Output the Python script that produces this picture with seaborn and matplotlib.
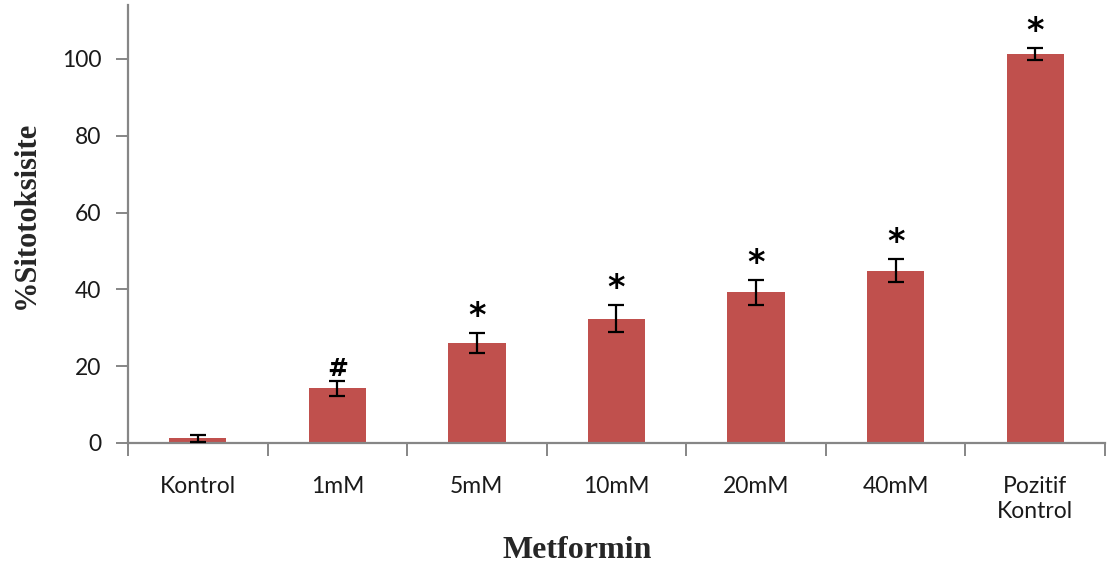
import numpy as np
import pandas as pd
import matplotlib
matplotlib.use("Agg")
import matplotlib.pyplot as plt
import seaborn as sns
from matplotlib.ticker import FixedLocator, NullFormatter

# Metformin cytotoxicity: mean % with error, and significance marks
categories = ["Kontrol", "1mM", "5mM", "10mM", "20mM", "40mM", "Pozitif\nKontrol"]
cytotoxicity = [1.2, 14.2, 26.0, 32.4, 39.2, 44.9, 101.3]
errors = [0.9, 1.9, 2.6, 3.4, 3.2, 2.9, 1.5]
marks = ["", "#", "*", "*", "*", "*", "*"]

df = pd.DataFrame({"group": categories, "value": cytotoxicity})

sns.set_theme(style="white")
plt.rcParams["font.family"] = ["Lato", "DejaVu Sans"]

bar_color = "#C0504D"
axis_color = "#868686"

fig = plt.figure(figsize=(11.09, 5.67), dpi=100)
ax = fig.add_axes([0.1154, 0.2187, 0.8810, 0.7723])

sns.barplot(data=df, x="group", y="value", color=bar_color, width=0.41,
            saturation=1, errorbar=None, ax=ax, edgecolor="none")

pos = np.arange(len(categories))
ax.errorbar(pos, cytotoxicity, yerr=errors, fmt="none", ecolor="black",
            elinewidth=1.6, capsize=6, capthick=1.6, zorder=5)

for x, v, e, m in zip(pos, cytotoxicity, errors, marks):
    if m:
        ax.annotate(m, xy=(x, v + e), xytext=(0, 0), textcoords="offset points",
                    ha="center", va="bottom", fontsize=18 if m == "#" else 24,
                    fontweight="bold", color="black",
                    family=["DejaVu Sans"])

ax.set_xlim(-0.5, len(categories) - 0.5)
ax.set_ylim(0, 114)
ax.yaxis.set_major_locator(FixedLocator([0, 20, 40, 60, 80, 100]))

for side in ["top", "right"]:
    ax.spines[side].set_visible(False)
for side in ["left", "bottom"]:
    ax.spines[side].set_color(axis_color)
    ax.spines[side].set_linewidth(1.6)

# Category ticks sit between the bars
ax.xaxis.set_minor_locator(FixedLocator(np.arange(-0.5, len(categories), 1.0)))
ax.xaxis.set_minor_formatter(NullFormatter())
ax.tick_params(axis="x", which="major", length=0, pad=24, labelsize=16.5,
               labelcolor="#1a1a1a")
ax.tick_params(axis="x", which="minor", length=9, width=1.4, color=axis_color,
               direction="out", bottom=True)
ax.tick_params(axis="y", which="major", length=9, width=1.4, color=axis_color,
               direction="out", left=True, labelsize=16.5, labelcolor="#1a1a1a", pad=10)

ax.set_xlabel("Metformin", fontsize=23, fontweight="bold",
              family=["Liberation Serif"])
ax.xaxis.set_label_coords(0.46, -0.212)
ax.set_ylabel("%Sitotoksisite", fontsize=22, fontweight="bold",
              family=["Liberation Serif"])
ax.yaxis.set_label_coords(-0.089, 0.52)

fig.savefig("out.png", dpi=100, facecolor="white")
